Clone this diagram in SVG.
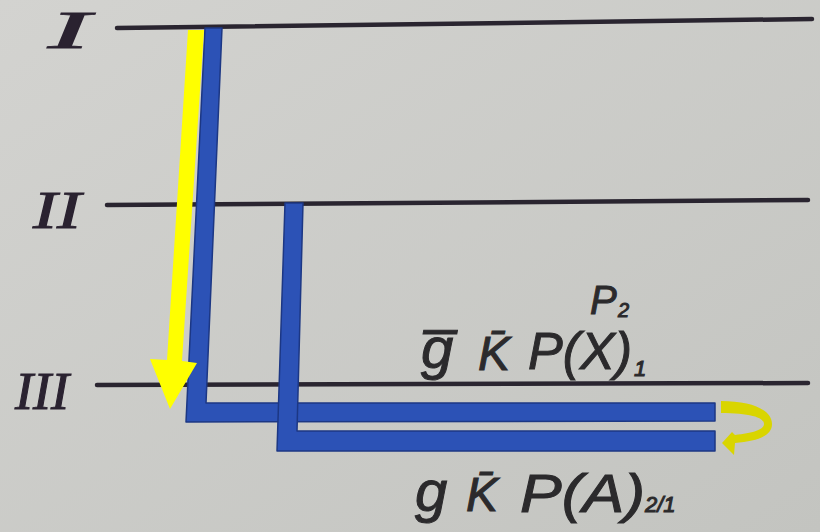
<svg xmlns="http://www.w3.org/2000/svg" width="820" height="532" viewBox="0 0 820 532">
  <defs>
    <linearGradient id="bg" x1="0" y1="0" x2="1" y2="1">
      <stop offset="0" stop-color="#d3d3d0"/>
      <stop offset="1" stop-color="#c3c4c0"/>
    </linearGradient>
    <style>
      .lvl { stroke: #2a2530; stroke-width: 4.5; stroke-linecap: round; fill: none; }
      .num { font-family: "Liberation Serif", "DejaVu Serif", serif; font-style: italic; font-size: 52px; fill: #2a2230; stroke: #2a2230; stroke-width: 1; }
      .lbl { font-family: "Liberation Sans", Arial, sans-serif; font-style: italic; fill: #2b2a2c; stroke: #2b2a2c; stroke-width: 1; }
      .bar { fill: #2c52b6; stroke: #1c3784; stroke-width: 1.5; stroke-linejoin: round; }
      .yel { fill: #ffff00; }
      .cyc { fill: #d9d500; }
    </style>
  </defs>
  <rect width="820" height="532" fill="url(#bg)"/>

  <g id="level-I">
    <line class="lvl" x1="117" y1="28" x2="812" y2="19"/>
    <text class="num" x="48" y="48" textLength="42" lengthAdjust="spacingAndGlyphs">I</text>
  </g>
  <g id="level-II">
    <line class="lvl" x1="107" y1="205" x2="808" y2="200"/>
    <text class="num" x="33" y="228" textLength="48" lengthAdjust="spacingAndGlyphs">II</text>
  </g>
  <g id="level-III">
    <line class="lvl" x1="97" y1="385" x2="808" y2="383"/>
    <text class="num" x="15" y="409" textLength="54" lengthAdjust="spacingAndGlyphs">III</text>
  </g>

  <g id="connectors">
    <polygon class="bar" points="205,28 222,28 206,403 715,403 715,421 186,422"/>
    <polygon class="bar" points="285,203 303,203 297,431 715,431 715,451 277,451"/>
    <polygon class="yel" points="188,30 204,30 182,361 197,363 170,409 150,359 167,360"/>
    <path class="cyc" d="M721,401 C752,401 772,410 772,424 C772,436 758,441 735,443 L734,455 L722,443 L732,432 L735,435 C752,433 764,430 764,424 C764,417 748,413 721,413 Z"/>
  </g>

  <g id="label-top">
    <text class="lbl" x="421" y="368" font-size="58">g̅</text>
    <text class="lbl" x="478" y="370" font-size="48">K̄</text>
    <text class="lbl" x="528" y="369" font-size="52">P(X)<tspan x="634" y="376" font-size="22">1</tspan></text>
    <text class="lbl" x="590" y="314" font-size="40">P<tspan x="618" y="317" font-size="20">2</tspan></text>
  </g>

  <g id="label-bottom">
    <text class="lbl" x="415" y="511" font-size="58" font-style="normal">g</text>
    <text class="lbl" x="466" y="511" font-size="48">K̄</text>
    <text class="lbl" x="520" y="512" font-size="54" textLength="125" lengthAdjust="spacingAndGlyphs">P(A)</text>
    <text class="lbl" x="645" y="512" font-size="22">2/1</text>
  </g>
</svg>
